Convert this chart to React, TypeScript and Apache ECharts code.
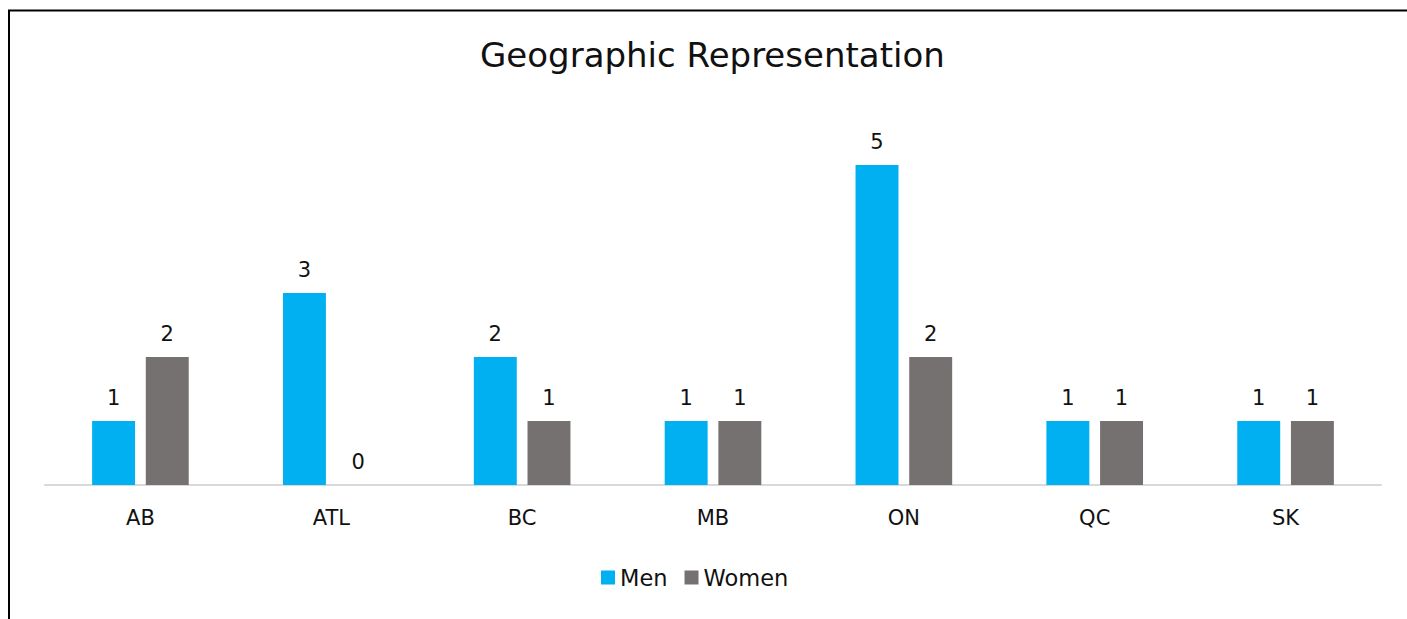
import React, { useEffect, useRef } from "react";
import * as echarts from "echarts";

const categories = ["AB", "ATL", "BC", "MB", "ON", "QC", "SK"];
const menValues = [1, 3, 2, 1, 5, 1, 1];
const womenValues = [2, 0, 1, 1, 2, 1, 1];
const seriesNames = ["Men", "Women"];
const titleText = "Geographic Representation";

const FONT = "'DejaVu Sans', 'Open Sans', sans-serif";

export default function App() {
  const ref = useRef<HTMLDivElement>(null);
  useEffect(() => {
    if (!ref.current) return;
    const chart = echarts.init(ref.current, null, { renderer: "svg" });
    const labelStyle = {
      show: true,
      position: "top",
      distance: 13,
      color: "#111",
      fontSize: 21,
      fontFamily: FONT,
    };
    chart.setOption({
      animation: false,
      backgroundColor: "#fff",
      title: {
        text: titleText,
        left: 480,
        top: 38,
        padding: 0,
        textStyle: { fontSize: 34, fontWeight: "normal", color: "#111", fontFamily: FONT },
      },
      legend: {
        data: seriesNames,
        bottom: 25,
        left: 596,
        icon: "rect",
        itemWidth: 14,
        itemHeight: 14,
        itemGap: 17,
        textStyle: { fontSize: 22.5, color: "#111", fontFamily: FONT },
      },
      grid: { left: 45, right: 26, top: 101, bottom: 134 },
      xAxis: {
        type: "category",
        data: categories,
        axisLine: { lineStyle: { color: "#d9d9d9", width: 2 } },
        axisTick: { show: false },
        axisLabel: { fontSize: 21, color: "#111", margin: 22, fontFamily: FONT },
      },
      yAxis: {
        type: "value",
        min: 0,
        max: 6,
        show: false,
        splitLine: { show: false },
      },
      series: [
        {
          name: seriesNames[0],
          type: "bar",
          data: menValues,
          barWidth: "22.5%",
          barGap: "25%",
          itemStyle: { color: "#00B0F0" },
          label: labelStyle,
        },
        {
          name: seriesNames[1],
          type: "bar",
          data: womenValues,
          barWidth: "22.5%",
          itemStyle: { color: "#767171" },
          label: labelStyle,
        },
      ],
      graphic: [
        { type: "line", shape: { x1: 9, y1: 10, x2: 9, y2: 619 }, style: { stroke: "#000", lineWidth: 2 } },
        { type: "line", shape: { x1: 8, y1: 10.5, x2: 1407, y2: 10.5 }, style: { stroke: "#000", lineWidth: 2 } },
      ],
    });
    return () => chart.dispose();
  }, []);
  return (
    <div
      ref={ref}
      style={{ position: "fixed", left: 0, top: 0, width: 1407, height: 619 }}
    />
  );
}
